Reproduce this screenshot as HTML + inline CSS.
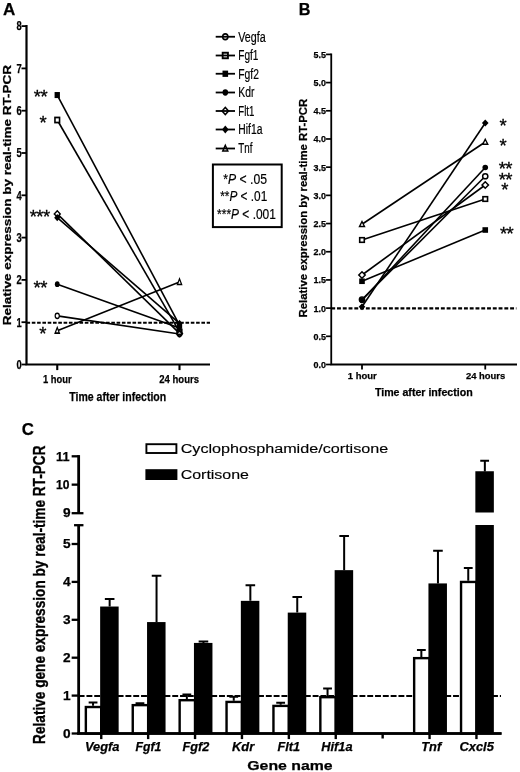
<!DOCTYPE html>
<html><head><meta charset="utf-8"><title>Figure</title>
<style>html,body{margin:0;padding:0;background:#fff}svg{display:block;filter:blur(0.35px)}</style></head>
<body>
<svg width="520" height="772" viewBox="0 0 520 772" font-family="Liberation Sans, sans-serif" fill="#000">
<rect width="520" height="772" fill="#fff"/>
<text x="2.9" y="15.2" font-size="16.2" font-weight="bold" font-style="normal" text-anchor="start" textLength="12.3" lengthAdjust="spacingAndGlyphs" stroke="#000" stroke-width="0.25">A</text>
<path d="M26.5 25.1V364.5H210" fill="none" stroke="#000" stroke-width="2.2"/>
<path d="M21.5 364.5H26.5" stroke="#000" stroke-width="1.8"/>
<text x="21.6" y="368.8" font-size="12.2" font-weight="bold" font-style="normal" text-anchor="end" textLength="5.2" lengthAdjust="spacingAndGlyphs" stroke="#000" stroke-width="0.25">0</text>
<path d="M21.5 322.2H26.5" stroke="#000" stroke-width="1.8"/>
<text x="21.6" y="326.5" font-size="12.2" font-weight="bold" font-style="normal" text-anchor="end" textLength="5.2" lengthAdjust="spacingAndGlyphs" stroke="#000" stroke-width="0.25">1</text>
<path d="M21.5 279.9H26.5" stroke="#000" stroke-width="1.8"/>
<text x="21.6" y="284.2" font-size="12.2" font-weight="bold" font-style="normal" text-anchor="end" textLength="5.2" lengthAdjust="spacingAndGlyphs" stroke="#000" stroke-width="0.25">2</text>
<path d="M21.5 237.6H26.5" stroke="#000" stroke-width="1.8"/>
<text x="21.6" y="241.9" font-size="12.2" font-weight="bold" font-style="normal" text-anchor="end" textLength="5.2" lengthAdjust="spacingAndGlyphs" stroke="#000" stroke-width="0.25">3</text>
<path d="M21.5 195.3H26.5" stroke="#000" stroke-width="1.8"/>
<text x="21.6" y="199.60000000000002" font-size="12.2" font-weight="bold" font-style="normal" text-anchor="end" textLength="5.2" lengthAdjust="spacingAndGlyphs" stroke="#000" stroke-width="0.25">4</text>
<path d="M21.5 153.0H26.5" stroke="#000" stroke-width="1.8"/>
<text x="21.6" y="157.3" font-size="12.2" font-weight="bold" font-style="normal" text-anchor="end" textLength="5.2" lengthAdjust="spacingAndGlyphs" stroke="#000" stroke-width="0.25">5</text>
<path d="M21.5 110.7H26.5" stroke="#000" stroke-width="1.8"/>
<text x="21.6" y="115.0" font-size="12.2" font-weight="bold" font-style="normal" text-anchor="end" textLength="5.2" lengthAdjust="spacingAndGlyphs" stroke="#000" stroke-width="0.25">6</text>
<path d="M21.5 68.4H26.5" stroke="#000" stroke-width="1.8"/>
<text x="21.6" y="72.7" font-size="12.2" font-weight="bold" font-style="normal" text-anchor="end" textLength="5.2" lengthAdjust="spacingAndGlyphs" stroke="#000" stroke-width="0.25">7</text>
<path d="M21.5 26.1H26.5" stroke="#000" stroke-width="1.8"/>
<text x="21.6" y="30.400000000000002" font-size="12.2" font-weight="bold" font-style="normal" text-anchor="end" textLength="5.2" lengthAdjust="spacingAndGlyphs" stroke="#000" stroke-width="0.25">8</text>
<path d="M57.25 364.5V370.1" stroke="#000" stroke-width="2.1"/>
<path d="M179.5 364.5V370.1" stroke="#000" stroke-width="2.1"/>
<path d="M26.5 322.7H210" stroke="#000" stroke-width="2.0" stroke-dasharray="3.6 1.7"/>
<path d="M57.25 315.86L179.5 334.04" stroke="#000" stroke-width="1.6"/>
<path d="M57.25 120.01L179.5 331.93" stroke="#000" stroke-width="1.6"/>
<path d="M57.25 95.05L179.5 325.16" stroke="#000" stroke-width="1.6"/>
<path d="M57.25 284.13L179.5 328.12" stroke="#000" stroke-width="1.6"/>
<path d="M57.25 213.91L179.5 333.41" stroke="#000" stroke-width="1.6"/>
<path d="M57.25 217.72L179.5 323.47" stroke="#000" stroke-width="1.6"/>
<path d="M57.25 330.66L179.5 282.01" stroke="#000" stroke-width="1.6"/>
<g transform="translate(57.25 315.86) scale(0.8 1.0) translate(-57.25 -315.86)">
<circle cx="57.25" cy="315.86" r="2.6" fill="#fff" stroke="#000" stroke-width="1.5"/>
</g>
<g transform="translate(179.5 334.04) scale(0.8 1.0) translate(-179.5 -334.04)">
<circle cx="179.5" cy="334.04" r="2.6" fill="#fff" stroke="#000" stroke-width="1.5"/>
</g>
<g transform="translate(57.25 120.01) scale(1.0 1.1) translate(-57.25 -120.01)">
<rect x="54.95" y="117.71000000000001" width="4.6" height="4.6" fill="#fff" stroke="#000" stroke-width="1.6"/>
</g>
<g transform="translate(179.5 331.93) scale(1.0 1.1) translate(-179.5 -331.93)">
<rect x="177.2" y="329.63" width="4.6" height="4.6" fill="none" stroke="#000" stroke-width="1.6"/>
</g>
<g transform="translate(57.25 95.05) scale(0.95 1.08) translate(-57.25 -95.05)">
<rect x="54.45" y="92.25" width="5.6" height="5.6" fill="#000"/>
</g>
<g transform="translate(179.5 325.16) scale(0.95 1.08) translate(-179.5 -325.16)">
<rect x="176.7" y="322.36" width="5.6" height="5.6" fill="#000"/>
</g>
<g transform="translate(57.25 284.13) scale(0.85 1.05) translate(-57.25 -284.13)">
<circle cx="57.25" cy="284.13" r="2.8" fill="#000"/>
</g>
<g transform="translate(179.5 328.12) scale(0.85 1.05) translate(-179.5 -328.12)">
<circle cx="179.5" cy="328.12" r="2.8" fill="#000"/>
</g>
<g transform="translate(57.25 213.91) scale(0.93 0.95) translate(-57.25 -213.91)">
<path d="M54.05 213.91L57.25 210.71L60.45 213.91L57.25 217.10999999999999Z" fill="#fff" stroke="#000" stroke-width="1.5"/>
</g>
<g transform="translate(179.5 333.41) scale(0.93 0.95) translate(-179.5 -333.41)">
<path d="M176.3 333.41L179.5 330.21000000000004L182.7 333.41L179.5 336.61Z" fill="none" stroke="#000" stroke-width="1.5"/>
</g>
<g transform="translate(57.25 217.72) scale(0.93 1.0) translate(-57.25 -217.72)">
<path d="M53.95 217.72L57.25 214.12L60.55 217.72L57.25 221.32Z" fill="#000"/>
</g>
<g transform="translate(179.5 323.47) scale(0.93 1.0) translate(-179.5 -323.47)">
<path d="M176.2 323.47L179.5 319.87L182.8 323.47L179.5 327.07000000000005Z" fill="#000"/>
</g>
<g transform="translate(57.25 330.66) scale(0.85 1.14) translate(-57.25 -330.66)">
<path d="M54.75 332.86L57.25 327.86L59.75 332.86Z" fill="#fff" stroke="#000" stroke-width="1.4"/>
</g>
<g transform="translate(179.5 282.01) scale(0.85 1.14) translate(-179.5 -282.01)">
<path d="M177.0 284.21L179.5 279.21L182.0 284.21Z" fill="#fff" stroke="#000" stroke-width="1.4"/>
</g>
<text x="43" y="382.6" font-size="11.8" font-weight="bold" font-style="normal" text-anchor="start" textLength="28.7" lengthAdjust="spacingAndGlyphs" stroke="#000" stroke-width="0.25">1 hour</text>
<text x="159.3" y="382.6" font-size="11.8" font-weight="bold" font-style="normal" text-anchor="start" textLength="39.7" lengthAdjust="spacingAndGlyphs" stroke="#000" stroke-width="0.25">24 hours</text>
<text x="69.3" y="400.8" font-size="12.8" font-weight="bold" font-style="normal" text-anchor="start" textLength="96.9" lengthAdjust="spacingAndGlyphs" stroke="#000" stroke-width="0.25">Time after infection</text>
<text x="10.8" y="325.2" font-size="10.8" font-weight="bold" font-style="normal" text-anchor="start" textLength="260.3" lengthAdjust="spacingAndGlyphs" transform="rotate(-90 10.8 325.2)" stroke="#000" stroke-width="0.25">Relative expression by real-time RT-PCR</text>
<text x="47" y="103.42" font-size="18.5" font-weight="normal" font-style="normal" text-anchor="end" letter-spacing="-0.6" stroke="#000" stroke-width="0.3">**</text>
<text x="46.2" y="128.88000000000002" font-size="18.5" font-weight="normal" font-style="normal" text-anchor="end" letter-spacing="-0.6" stroke="#000" stroke-width="0.3">*</text>
<text x="49.5" y="222.78" font-size="18.5" font-weight="normal" font-style="normal" text-anchor="end" letter-spacing="-0.6" stroke="#000" stroke-width="0.3">***</text>
<text x="46.8" y="294.0" font-size="18.5" font-weight="normal" font-style="normal" text-anchor="end" letter-spacing="-0.6" stroke="#000" stroke-width="0.3">**</text>
<text x="45.8" y="340.33000000000004" font-size="18.5" font-weight="normal" font-style="normal" text-anchor="end" letter-spacing="-0.6" stroke="#000" stroke-width="0.3">*</text>
<g transform="translate(225.3 36.75) scale(1.0 1.12) translate(-225.3 -36.75)">
<circle cx="225.3" cy="36.75" r="2.6" fill="#fff" stroke="#000" stroke-width="1.5"/>
</g>
<path d="M215.7 36.75H235" stroke="#000" stroke-width="1.8"/>
<g transform="translate(225.3 55.5) scale(1.15 1.2) translate(-225.3 -55.5)">
<rect x="223.0" y="53.2" width="4.6" height="4.6" fill="#fff" stroke="#000" stroke-width="1.6"/>
</g>
<path d="M215.7 55.5H235" stroke="#000" stroke-width="1.8"/>
<g transform="translate(225.3 73.75) scale(1.0 1.12) translate(-225.3 -73.75)">
<rect x="222.5" y="70.95" width="5.6" height="5.6" fill="#000"/>
</g>
<path d="M215.7 73.75H235" stroke="#000" stroke-width="1.8"/>
<g transform="translate(225.3 92.5) scale(1.0 1.12) translate(-225.3 -92.5)">
<circle cx="225.3" cy="92.5" r="2.8" fill="#000"/>
</g>
<path d="M215.7 92.5H235" stroke="#000" stroke-width="1.8"/>
<g transform="translate(225.3 111) scale(1.0 1.12) translate(-225.3 -111)">
<path d="M222.10000000000002 111L225.3 107.8L228.5 111L225.3 114.2Z" fill="#fff" stroke="#000" stroke-width="1.5"/>
</g>
<path d="M215.7 111H235" stroke="#000" stroke-width="1.8"/>
<g transform="translate(225.3 129.5) scale(1.0 1.12) translate(-225.3 -129.5)">
<path d="M222.0 129.5L225.3 125.9L228.60000000000002 129.5L225.3 133.1Z" fill="#000"/>
</g>
<path d="M215.7 129.5H235" stroke="#000" stroke-width="1.8"/>
<g transform="translate(225.3 148.5) scale(1.0 1.12) translate(-225.3 -148.5)">
<path d="M222.8 150.7L225.3 145.7L227.8 150.7Z" fill="#fff" stroke="#000" stroke-width="1.4"/>
</g>
<path d="M215.7 148.5H235" stroke="#000" stroke-width="1.8"/>
<text x="238.3" y="41.65" font-size="14" font-weight="normal" font-style="normal" text-anchor="start" textLength="27.400000000000002" lengthAdjust="spacingAndGlyphs" stroke="#000" stroke-width="0.2">Vegfa</text>
<text x="238.3" y="60.4" font-size="14" font-weight="normal" font-style="normal" text-anchor="start" textLength="20.1" lengthAdjust="spacingAndGlyphs" stroke="#000" stroke-width="0.2">Fgf1</text>
<text x="238.3" y="78.65" font-size="14" font-weight="normal" font-style="normal" text-anchor="start" textLength="20.6" lengthAdjust="spacingAndGlyphs" stroke="#000" stroke-width="0.2">Fgf2</text>
<text x="238.3" y="97.4" font-size="14" font-weight="normal" font-style="normal" text-anchor="start" textLength="16.1" lengthAdjust="spacingAndGlyphs" stroke="#000" stroke-width="0.2">Kdr</text>
<text x="238.3" y="115.9" font-size="14" font-weight="normal" font-style="normal" text-anchor="start" textLength="16.1" lengthAdjust="spacingAndGlyphs" stroke="#000" stroke-width="0.2">Flt1</text>
<text x="238.3" y="134.4" font-size="14" font-weight="normal" font-style="normal" text-anchor="start" textLength="24.1" lengthAdjust="spacingAndGlyphs" stroke="#000" stroke-width="0.2">Hif1a</text>
<text x="238.3" y="153.4" font-size="14" font-weight="normal" font-style="normal" text-anchor="start" textLength="14.1" lengthAdjust="spacingAndGlyphs" stroke="#000" stroke-width="0.2">Tnf</text>
<rect x="212.9" y="164.5" width="68.8" height="62.6" fill="#fff" stroke="#000" stroke-width="2"/>
<text x="223.2" y="183.5" font-size="14.3" stroke="#000" stroke-width="0.2" textLength="43.8" lengthAdjust="spacingAndGlyphs">*<tspan font-style="italic">P</tspan> &lt; .05</text>
<text x="220.2" y="200.8" font-size="14.3" stroke="#000" stroke-width="0.2" textLength="47.1" lengthAdjust="spacingAndGlyphs">**<tspan font-style="italic">P</tspan> &lt; .01</text>
<text x="217.1" y="218.7" font-size="14.3" stroke="#000" stroke-width="0.2" textLength="58.8" lengthAdjust="spacingAndGlyphs">***<tspan font-style="italic">P</tspan> &lt; .001</text>
<text x="298.8" y="15.2" font-size="16.2" font-weight="bold" font-style="normal" text-anchor="start" stroke="#000" stroke-width="0.25">B</text>
<path d="M331.25 53.41V364.5H517" fill="none" stroke="#000" stroke-width="1.8"/>
<path d="M326.05 364.5H331.25" stroke="#000" stroke-width="1.7"/>
<text x="326" y="367.9" font-size="9.5" font-weight="bold" font-style="normal" text-anchor="end" textLength="12.5" lengthAdjust="spacingAndGlyphs" stroke="#000" stroke-width="0.25">0.0</text>
<path d="M326.05 336.31H331.25" stroke="#000" stroke-width="1.7"/>
<text x="326" y="339.71" font-size="9.5" font-weight="bold" font-style="normal" text-anchor="end" textLength="12.5" lengthAdjust="spacingAndGlyphs" stroke="#000" stroke-width="0.25">0.5</text>
<path d="M326.05 308.12H331.25" stroke="#000" stroke-width="1.7"/>
<text x="326" y="311.52" font-size="9.5" font-weight="bold" font-style="normal" text-anchor="end" textLength="12.5" lengthAdjust="spacingAndGlyphs" stroke="#000" stroke-width="0.25">1.0</text>
<path d="M326.05 279.93H331.25" stroke="#000" stroke-width="1.7"/>
<text x="326" y="283.33" font-size="9.5" font-weight="bold" font-style="normal" text-anchor="end" textLength="12.5" lengthAdjust="spacingAndGlyphs" stroke="#000" stroke-width="0.25">1.5</text>
<path d="M326.05 251.74H331.25" stroke="#000" stroke-width="1.7"/>
<text x="326" y="255.14000000000001" font-size="9.5" font-weight="bold" font-style="normal" text-anchor="end" textLength="12.5" lengthAdjust="spacingAndGlyphs" stroke="#000" stroke-width="0.25">2.0</text>
<path d="M326.05 223.55H331.25" stroke="#000" stroke-width="1.7"/>
<text x="326" y="226.95000000000002" font-size="9.5" font-weight="bold" font-style="normal" text-anchor="end" textLength="12.5" lengthAdjust="spacingAndGlyphs" stroke="#000" stroke-width="0.25">2.5</text>
<path d="M326.05 195.36H331.25" stroke="#000" stroke-width="1.7"/>
<text x="326" y="198.76000000000002" font-size="9.5" font-weight="bold" font-style="normal" text-anchor="end" textLength="12.5" lengthAdjust="spacingAndGlyphs" stroke="#000" stroke-width="0.25">3.0</text>
<path d="M326.05 167.17H331.25" stroke="#000" stroke-width="1.7"/>
<text x="326" y="170.57" font-size="9.5" font-weight="bold" font-style="normal" text-anchor="end" textLength="12.5" lengthAdjust="spacingAndGlyphs" stroke="#000" stroke-width="0.25">3.5</text>
<path d="M326.05 138.98H331.25" stroke="#000" stroke-width="1.7"/>
<text x="326" y="142.38" font-size="9.5" font-weight="bold" font-style="normal" text-anchor="end" textLength="12.5" lengthAdjust="spacingAndGlyphs" stroke="#000" stroke-width="0.25">4.0</text>
<path d="M326.05 110.79H331.25" stroke="#000" stroke-width="1.7"/>
<text x="326" y="114.19000000000001" font-size="9.5" font-weight="bold" font-style="normal" text-anchor="end" textLength="12.5" lengthAdjust="spacingAndGlyphs" stroke="#000" stroke-width="0.25">4.5</text>
<path d="M326.05 82.6H331.25" stroke="#000" stroke-width="1.7"/>
<text x="326" y="86.0" font-size="9.5" font-weight="bold" font-style="normal" text-anchor="end" textLength="12.5" lengthAdjust="spacingAndGlyphs" stroke="#000" stroke-width="0.25">5.0</text>
<path d="M326.05 54.41H331.25" stroke="#000" stroke-width="1.7"/>
<text x="326" y="57.809999999999995" font-size="9.5" font-weight="bold" font-style="normal" text-anchor="end" textLength="12.5" lengthAdjust="spacingAndGlyphs" stroke="#000" stroke-width="0.25">5.5</text>
<path d="M362 364.5V369.5" stroke="#000" stroke-width="1.8"/>
<path d="M485.25 364.5V369.5" stroke="#000" stroke-width="1.8"/>
<path d="M331.25 308.42H516.4" stroke="#000" stroke-width="2.2" stroke-dasharray="3.9 1.87"/>
<path d="M362 299.6L485.25 176.25" stroke="#000" stroke-width="1.6"/>
<path d="M362 240.0L485.25 199.0" stroke="#000" stroke-width="1.6"/>
<path d="M362 281.25L485.25 230.0" stroke="#000" stroke-width="1.6"/>
<path d="M362 300.2L485.25 167.5" stroke="#000" stroke-width="1.6"/>
<path d="M362 275.0L485.25 185.0" stroke="#000" stroke-width="1.6"/>
<path d="M362 306.75L485.25 123.0" stroke="#000" stroke-width="1.6"/>
<path d="M362 224.25L485.25 142.0" stroke="#000" stroke-width="1.6"/>
<circle cx="362" cy="299.6" r="2.6" fill="#fff" stroke="#000" stroke-width="1.5"/>
<circle cx="485.25" cy="176.25" r="2.6" fill="#fff" stroke="#000" stroke-width="1.5"/>
<rect x="359.7" y="237.7" width="4.6" height="4.6" fill="#fff" stroke="#000" stroke-width="1.6"/>
<rect x="482.95" y="196.7" width="4.6" height="4.6" fill="#fff" stroke="#000" stroke-width="1.6"/>
<rect x="359.2" y="278.45" width="5.6" height="5.6" fill="#000"/>
<rect x="482.45" y="227.2" width="5.6" height="5.6" fill="#000"/>
<circle cx="362" cy="300.2" r="2.8" fill="#000"/>
<circle cx="485.25" cy="167.5" r="2.8" fill="#000"/>
<path d="M358.8 275.0L362 271.8L365.2 275.0L362 278.2Z" fill="#fff" stroke="#000" stroke-width="1.5"/>
<path d="M482.05 185.0L485.25 181.8L488.45 185.0L485.25 188.2Z" fill="#fff" stroke="#000" stroke-width="1.5"/>
<path d="M358.7 306.75L362 303.15L365.3 306.75L362 310.35Z" fill="#000"/>
<path d="M481.95 123.0L485.25 119.4L488.55 123.0L485.25 126.6Z" fill="#000"/>
<path d="M359.5 226.45L362 221.45L364.5 226.45Z" fill="#fff" stroke="#000" stroke-width="1.4"/>
<path d="M482.75 144.2L485.25 139.2L487.75 144.2Z" fill="#fff" stroke="#000" stroke-width="1.4"/>
<text x="347.8" y="379.3" font-size="9.8" font-weight="bold" font-style="normal" text-anchor="start" textLength="28.9" lengthAdjust="spacingAndGlyphs" stroke="#000" stroke-width="0.25">1 hour</text>
<text x="466" y="379.3" font-size="9.8" font-weight="bold" font-style="normal" text-anchor="start" textLength="39.2" lengthAdjust="spacingAndGlyphs" stroke="#000" stroke-width="0.25">24 hours</text>
<text x="374.9" y="396.3" font-size="10.3" font-weight="bold" font-style="normal" text-anchor="start" textLength="97.8" lengthAdjust="spacingAndGlyphs" stroke="#000" stroke-width="0.25">Time after infection</text>
<text x="306.9" y="317.4" font-size="10.7" font-weight="bold" font-style="normal" text-anchor="start" textLength="218.6" lengthAdjust="spacingAndGlyphs" transform="rotate(-90 306.9 317.4)" stroke="#000" stroke-width="0.25">Relative expression by real-time RT-PCR</text>
<text x="499.5" y="132.17000000000002" font-size="18.5" font-weight="normal" font-style="normal" text-anchor="start" letter-spacing="-0.6" stroke="#000" stroke-width="0.3">*</text>
<text x="499.5" y="151.97" font-size="18.5" font-weight="normal" font-style="normal" text-anchor="start" letter-spacing="-0.6" stroke="#000" stroke-width="0.3">*</text>
<text x="498.7" y="175.47" font-size="18.5" font-weight="normal" font-style="normal" text-anchor="start" letter-spacing="-0.6" stroke="#000" stroke-width="0.3">**</text>
<text x="498.7" y="185.92" font-size="18.5" font-weight="normal" font-style="normal" text-anchor="start" letter-spacing="-0.6" stroke="#000" stroke-width="0.3">**</text>
<text x="501.2" y="195.97" font-size="18.5" font-weight="normal" font-style="normal" text-anchor="start" letter-spacing="-0.6" stroke="#000" stroke-width="0.3">*</text>
<text x="500" y="239.97" font-size="18.5" font-weight="normal" font-style="normal" text-anchor="start" letter-spacing="-0.6" stroke="#000" stroke-width="0.3">**</text>
<text x="21.8" y="434.7" font-size="16.8" font-weight="bold" font-style="normal" text-anchor="start" stroke="#000" stroke-width="0.25">C</text>
<path d="M78.65 455.1V513" stroke="#000" stroke-width="2.8"/>
<path d="M78.65 525.5V733.5" stroke="#000" stroke-width="2.8"/>
<path d="M77.25 733.5H501.5" stroke="#000" stroke-width="2.6"/>
<path d="M71.65 484.65H78.65" stroke="#000" stroke-width="2.3"/>
<path d="M71.65 456.3H78.65" stroke="#000" stroke-width="2.3"/>
<path d="M71.65 513.2H83.45" stroke="#000" stroke-width="2.3"/>
<path d="M74.05000000000001 525.2H83.45" stroke="#000" stroke-width="2.3"/>
<path d="M71.65 733.5H78.65" stroke="#000" stroke-width="2.3"/>
<text x="70.5" y="737.7" font-size="12" font-weight="bold" font-style="normal" text-anchor="end" textLength="7.6" lengthAdjust="spacingAndGlyphs" stroke="#000" stroke-width="0.25">0</text>
<path d="M71.65 695.6H78.65" stroke="#000" stroke-width="2.3"/>
<text x="70.5" y="699.8000000000001" font-size="12" font-weight="bold" font-style="normal" text-anchor="end" textLength="7.6" lengthAdjust="spacingAndGlyphs" stroke="#000" stroke-width="0.25">1</text>
<path d="M71.65 657.7H78.65" stroke="#000" stroke-width="2.3"/>
<text x="70.5" y="661.9000000000001" font-size="12" font-weight="bold" font-style="normal" text-anchor="end" textLength="7.6" lengthAdjust="spacingAndGlyphs" stroke="#000" stroke-width="0.25">2</text>
<path d="M71.65 619.8H78.65" stroke="#000" stroke-width="2.3"/>
<text x="70.5" y="624.0" font-size="12" font-weight="bold" font-style="normal" text-anchor="end" textLength="7.6" lengthAdjust="spacingAndGlyphs" stroke="#000" stroke-width="0.25">3</text>
<path d="M71.65 581.9H78.65" stroke="#000" stroke-width="2.3"/>
<text x="70.5" y="586.1" font-size="12" font-weight="bold" font-style="normal" text-anchor="end" textLength="7.6" lengthAdjust="spacingAndGlyphs" stroke="#000" stroke-width="0.25">4</text>
<path d="M71.65 544.0H78.65" stroke="#000" stroke-width="2.3"/>
<text x="70.5" y="548.2" font-size="12" font-weight="bold" font-style="normal" text-anchor="end" textLength="7.6" lengthAdjust="spacingAndGlyphs" stroke="#000" stroke-width="0.25">5</text>
<text x="70.5" y="517.2" font-size="12" font-weight="bold" font-style="normal" text-anchor="end" textLength="7.6" lengthAdjust="spacingAndGlyphs" stroke="#000" stroke-width="0.25">9</text>
<text x="69.5" y="488.84999999999997" font-size="12" font-weight="bold" font-style="normal" text-anchor="end" textLength="13.4" lengthAdjust="spacingAndGlyphs" stroke="#000" stroke-width="0.25">10</text>
<text x="69.5" y="460.5" font-size="12" font-weight="bold" font-style="normal" text-anchor="end" textLength="13.4" lengthAdjust="spacingAndGlyphs" stroke="#000" stroke-width="0.25">11</text>
<path d="M78.65 696.0H501" stroke="#000" stroke-width="2.1" stroke-dasharray="5.9 1.9"/>
<path d="M93.05 702.42V705.83M88.65 702.42H97.45" stroke="#000" stroke-width="2" fill="none"/>
<rect x="85.85000000000001" y="707.0300000000001" width="15.400000000000002" height="26.46999999999996" fill="#fff" stroke="#000" stroke-width="2.4"/>
<path d="M109.65 598.96V606.53M104.85 598.96H114.45" stroke="#000" stroke-width="2" fill="none"/>
<rect x="100.15" y="606.53" width="18.5" height="126.97000000000003" fill="#000"/>
<path d="M139.95000000000002 703.18V703.94M135.55 703.18H144.35" stroke="#000" stroke-width="2" fill="none"/>
<rect x="132.75" y="705.1400000000001" width="15.400000000000002" height="28.359999999999946" fill="#fff" stroke="#000" stroke-width="2.4"/>
<path d="M156.55 575.84V622.07M151.75 575.84H161.35" stroke="#000" stroke-width="2" fill="none"/>
<rect x="147.05" y="622.07" width="18.5" height="111.42999999999995" fill="#000"/>
<path d="M186.85000000000002 694.46V699.01M182.45000000000002 694.46H191.25" stroke="#000" stroke-width="2" fill="none"/>
<rect x="179.65" y="700.21" width="15.400000000000002" height="33.290000000000006" fill="#fff" stroke="#000" stroke-width="2.4"/>
<path d="M203.45000000000002 641.59V642.92M198.65 641.59H208.25" stroke="#000" stroke-width="2" fill="none"/>
<rect x="193.95000000000002" y="642.92" width="18.5" height="90.58000000000004" fill="#000"/>
<path d="M233.75 696.74V700.72M229.35 696.74H238.14999999999998" stroke="#000" stroke-width="2" fill="none"/>
<rect x="226.54999999999998" y="701.9200000000001" width="15.400000000000002" height="31.579999999999973" fill="#fff" stroke="#000" stroke-width="2.4"/>
<path d="M250.35 585.31V600.85M245.54999999999998 585.31H255.14999999999998" stroke="#000" stroke-width="2" fill="none"/>
<rect x="240.85" y="600.85" width="18.5" height="132.64999999999998" fill="#000"/>
<path d="M280.65000000000003 702.8V704.7M276.25 702.8H285.05" stroke="#000" stroke-width="2" fill="none"/>
<rect x="273.45" y="705.9000000000001" width="15.400000000000002" height="27.599999999999955" fill="#fff" stroke="#000" stroke-width="2.4"/>
<path d="M297.25 597.06V612.6M292.45000000000005 597.06H302.05" stroke="#000" stroke-width="2" fill="none"/>
<rect x="287.75" y="612.6" width="18.5" height="120.89999999999998" fill="#000"/>
<path d="M327.55 688.4V695.98M323.15 688.4H331.95" stroke="#000" stroke-width="2" fill="none"/>
<rect x="320.34999999999997" y="697.1800000000001" width="15.400000000000002" height="36.31999999999998" fill="#fff" stroke="#000" stroke-width="2.4"/>
<path d="M344.15 536.04V570.15M339.35 536.04H348.95" stroke="#000" stroke-width="2" fill="none"/>
<rect x="334.65" y="570.15" width="18.5" height="163.35000000000002" fill="#000"/>
<path d="M421.35 650.12V656.94M416.95 650.12H425.75" stroke="#000" stroke-width="2" fill="none"/>
<rect x="414.15" y="658.1400000000001" width="15.400000000000002" height="75.35999999999994" fill="#fff" stroke="#000" stroke-width="2.4"/>
<path d="M437.95 550.82V583.42M433.15000000000003 550.82H442.75" stroke="#000" stroke-width="2" fill="none"/>
<rect x="428.45" y="583.42" width="18.5" height="150.08000000000004" fill="#000"/>
<path d="M468.25 567.88V580.76M463.84999999999997 567.88H472.65" stroke="#000" stroke-width="2" fill="none"/>
<rect x="461.04999999999995" y="581.96" width="15.400000000000002" height="151.54000000000002" fill="#fff" stroke="#000" stroke-width="2.4"/>
<rect x="475.34999999999997" y="525" width="18.5" height="208.5" fill="#000"/>
<rect x="475.34999999999997" y="471.25" width="18.5" height="41.25" fill="#000"/>
<path d="M484.84999999999997 460.75V471.5M480.25 460.75H489.05" stroke="#000" stroke-width="2" fill="none"/>
<path d="M77.25 733.5H501.5" stroke="#000" stroke-width="2.6"/>
<path d="M101.25 733.5V739.1" stroke="#000" stroke-width="2.4"/>
<path d="M148.15 733.5V739.1" stroke="#000" stroke-width="2.4"/>
<path d="M195.05 733.5V739.1" stroke="#000" stroke-width="2.4"/>
<path d="M241.95 733.5V739.1" stroke="#000" stroke-width="2.4"/>
<path d="M288.85 733.5V739.1" stroke="#000" stroke-width="2.4"/>
<path d="M335.75 733.5V739.1" stroke="#000" stroke-width="2.4"/>
<path d="M382.65 733.5V738.5" stroke="#000" stroke-width="2.4"/>
<path d="M429.55 733.5V739.1" stroke="#000" stroke-width="2.4"/>
<path d="M476.45 733.5V739.1" stroke="#000" stroke-width="2.4"/>
<text x="85" y="750.9" font-size="12.4" font-weight="bold" font-style="italic" text-anchor="start" textLength="34.5" lengthAdjust="spacingAndGlyphs" stroke="#000" stroke-width="0.25">Vegfa</text>
<text x="135.5" y="750.9" font-size="12.4" font-weight="bold" font-style="italic" text-anchor="start" textLength="25.75" lengthAdjust="spacingAndGlyphs" stroke="#000" stroke-width="0.25">Fgf1</text>
<text x="182.5" y="750.9" font-size="12.4" font-weight="bold" font-style="italic" text-anchor="start" textLength="26.75" lengthAdjust="spacingAndGlyphs" stroke="#000" stroke-width="0.25">Fgf2</text>
<text x="232" y="750.9" font-size="12.4" font-weight="bold" font-style="italic" text-anchor="start" textLength="22.25" lengthAdjust="spacingAndGlyphs" stroke="#000" stroke-width="0.25">Kdr</text>
<text x="277.5" y="750.9" font-size="12.4" font-weight="bold" font-style="italic" text-anchor="start" textLength="22.5" lengthAdjust="spacingAndGlyphs" stroke="#000" stroke-width="0.25">Flt1</text>
<text x="321.25" y="750.9" font-size="12.4" font-weight="bold" font-style="italic" text-anchor="start" textLength="31.25" lengthAdjust="spacingAndGlyphs" stroke="#000" stroke-width="0.25">Hif1a</text>
<text x="421.2" y="750.9" font-size="12.4" font-weight="bold" font-style="italic" text-anchor="start" textLength="20.0" lengthAdjust="spacingAndGlyphs" stroke="#000" stroke-width="0.25">Tnf</text>
<text x="459.5" y="750.9" font-size="12.4" font-weight="bold" font-style="italic" text-anchor="start" textLength="34.3" lengthAdjust="spacingAndGlyphs" stroke="#000" stroke-width="0.25">Cxcl5</text>
<text x="247.3" y="770.3" font-size="13.6" font-weight="bold" font-style="normal" text-anchor="start" textLength="85.4" lengthAdjust="spacingAndGlyphs" stroke="#000" stroke-width="0.25">Gene name</text>
<text x="45.3" y="743.9" font-size="16.4" font-weight="bold" font-style="normal" text-anchor="start" textLength="298.4" lengthAdjust="spacingAndGlyphs" transform="rotate(-90 45.3 743.9)" stroke="#000" stroke-width="0.35">Relative gene expression by real-time RT-PCR</text>
<rect x="146.4" y="444.2" width="30" height="8.8" fill="#fff" stroke="#000" stroke-width="1.9"/>
<rect x="145.4" y="469.2" width="32" height="10.8" fill="#000"/>
<text x="180.7" y="453.4" font-size="13.7" font-weight="normal" font-style="normal" text-anchor="start" textLength="207.6" lengthAdjust="spacingAndGlyphs" stroke="#000" stroke-width="0.15">Cyclophosphamide/cortisone</text>
<text x="180.7" y="478.8" font-size="13.7" font-weight="normal" font-style="normal" text-anchor="start" textLength="68.3" lengthAdjust="spacingAndGlyphs" stroke="#000" stroke-width="0.15">Cortisone</text>
</svg>
</body></html>
